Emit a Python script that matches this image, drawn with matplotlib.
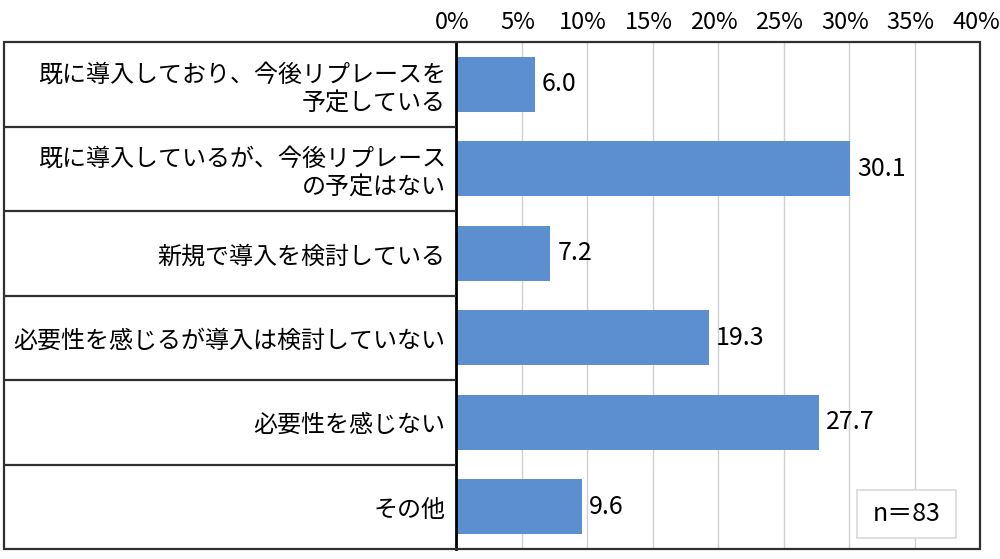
import matplotlib
matplotlib.use("Agg")
import matplotlib.pyplot as plt
from matplotlib.patches import Rectangle
import matplotlib.transforms as mtransforms

plt.rcParams['font.family'] = ['Noto Sans CJK JP', 'DejaVu Sans']

categories = [
    "既に導入しており、今後リプレースを\n予定している",
    "既に導入しているが、今後リプレース\nの予定はない",
    "新規で導入を検討している",
    "必要性を感じるが導入は検討していない",
    "必要性を感じない",
    "その他",
]
values = [6.0, 30.1, 7.2, 19.3, 27.7, 9.6]
xticks = [0, 5, 10, 15, 20, 25, 30, 35, 40]
xticklabels = [f"{t}%" for t in xticks]
note = "n＝83"

W, H = 1000, 559
fig = plt.figure(figsize=(W/100, H/100), dpi=100)
x0, x1, yt, yb = 456, 980, 42, 549
ax = fig.add_axes([x0/W, 1-yb/H, (x1-x0)/W, (yb-yt)/H])

ypos = list(range(len(categories)))
ax.barh(ypos, values, height=0.65, color='#5B8FD0', zorder=3)
for y, v in zip(ypos, values):
    ax.text(v + 0.55, y, f"{v:.1f}", va='center', ha='left', fontsize=18, color='black', zorder=4)

ax.set_xlim(0, 40)
ax.set_ylim(len(categories)-0.5, -0.5)
ax.xaxis.tick_top()
ax.set_xticks(xticks)
ax.set_xticklabels(xticklabels, fontsize=17)
ax.tick_params(axis='x', length=0, pad=6)
offset = mtransforms.ScaledTranslation(-4/100, 0, fig.dpi_scale_trans)
for lab in ax.get_xticklabels():
    lab.set_transform(lab.get_transform() + offset)
ax.set_yticks(ypos)
ax.set_yticklabels(categories, fontsize=17.3, linespacing=1.15, ha='right')
ax.tick_params(axis='y', length=0, pad=7.5)
ax.grid(axis='x', color='#d0d0d0', linewidth=1, zorder=0)
ax.set_axisbelow(True)

for s in ['top', 'bottom', 'right']:
    ax.spines[s].set_visible(False)
ax.spines['left'].set_linewidth(2)
ax.spines['left'].set_color('black')
ax.spines['left'].set_zorder(5)

left_frac = (4 - x0) / (x1 - x0)
ax.add_patch(Rectangle((left_frac, 0), 1 - left_frac, 1, transform=ax.transAxes,
                       fill=False, edgecolor='#303030', linewidth=1.6, clip_on=False, zorder=6))
trans = mtransforms.blended_transform_factory(ax.transAxes, ax.transData)
for b in [0.5, 1.5, 2.5, 3.5, 4.5]:
    ax.plot([left_frac, 0], [b, b], transform=trans, color='#303030', linewidth=1.6,
            clip_on=False, zorder=6, solid_capstyle='butt')

# note box
bx0 = (857 - x0) / (x1 - x0)
bx1 = (956 - x0) / (x1 - x0)
by0 = (yb - 538) / (yb - yt)
by1 = (yb - 490) / (yb - yt)
ax.add_patch(Rectangle((bx0, by0), bx1 - bx0, by1 - by0, transform=ax.transAxes,
                       facecolor='white', edgecolor='#d9d9d9', linewidth=1.2, zorder=7))
ax.text((bx0+bx1)/2, (by0+by1)/2, note, transform=ax.transAxes, ha='center', va='center',
        fontsize=18, zorder=8)

fig.savefig("out.png", dpi=100)
